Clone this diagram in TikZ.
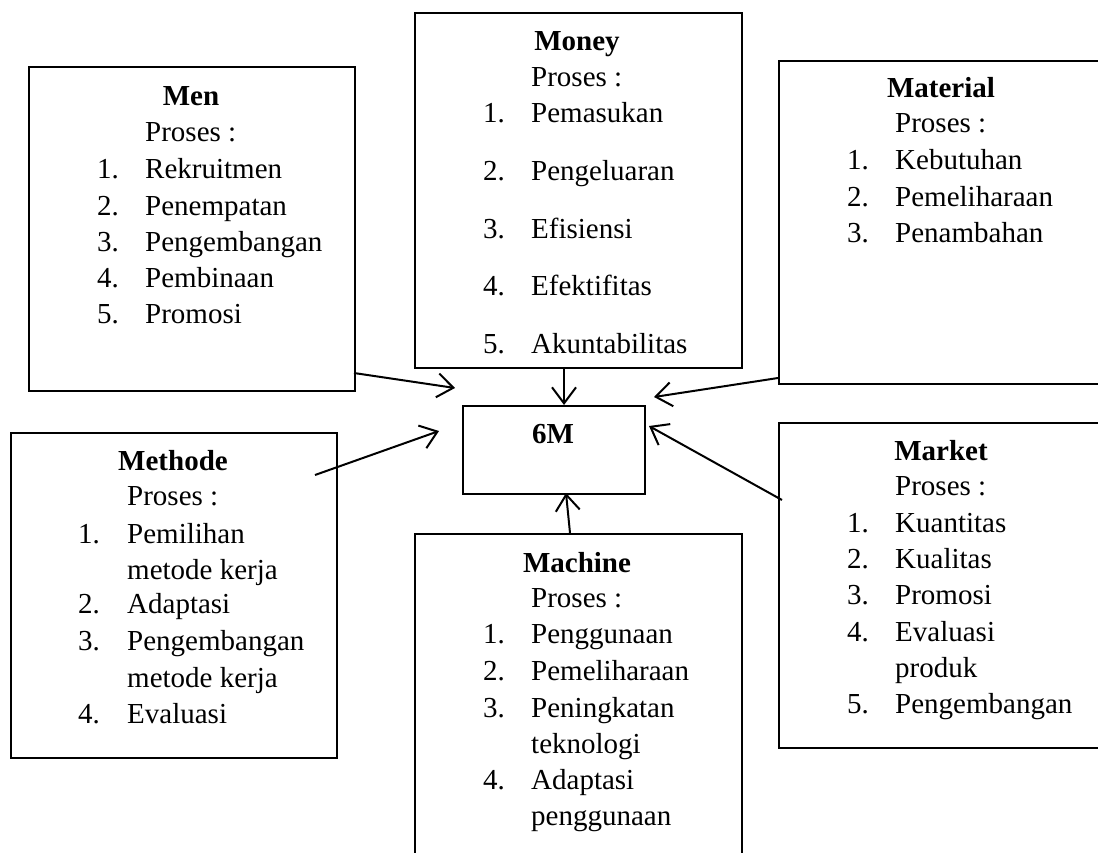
\documentclass[tikz,border=0pt]{standalone}
\usepackage{fontspec}
\setmainfont{Liberation Serif}
\usetikzlibrary{arrows.meta}
\begin{document}
\begin{tikzpicture}[x=1pt,y=-1pt,
  box/.style={draw, line width=2pt, rectangle, inner sep=0pt, anchor=north west},
  txt/.style={anchor=base west, inner sep=0pt, font=\fontsize{29}{36}\selectfont},
  ttl/.style={anchor=base, inner sep=0pt, font=\fontsize{29}{36}\selectfont\bfseries},
  arr/.style={line width=2pt, -{Straight Barb[length=16pt,width=24pt,line width=2pt]}}]
\useasboundingbox (0,0) rectangle (1098,852);
\clip (0,0) rectangle (1098,852);
% boxes
\node[box, minimum width=326pt, minimum height=324pt] (men) at (28,66) {};
\node[box, minimum width=327pt, minimum height=355pt] (money) at (414,12) {};
\node[box, minimum width=326pt, minimum height=323pt] (material) at (778,60) {};
\node[box, minimum width=326pt, minimum height=325pt] (methode) at (10,432) {};
\node[box, minimum width=327pt, minimum height=340pt] (machine) at (414,533) {};
\node[box, minimum width=326pt, minimum height=325pt] (market) at (778,422) {};
\node[box, minimum width=182pt, minimum height=88pt] (six) at (462,405) {};
\node[ttl] (sixt) at (553,443) {6M};
% Men
\node[ttl] (menT) at (191,105) {Men};
\node[txt] (menP) at (145,141) {Proses :};
\node[txt] (menN1) at (97,178) {1.}; \node[txt] (menI1) at (145,178) {Rekruitmen};
\node[txt] (menN2) at (97,215) {2.}; \node[txt] (menI2) at (145,215) {Penempatan};
\node[txt] (menN3) at (97,251) {3.}; \node[txt] (menI3) at (145,251) {Pengembangan};
\node[txt] (menN4) at (97,287) {4.}; \node[txt] (menI4) at (145,287) {Pembinaan};
\node[txt] (menN5) at (97,323) {5.}; \node[txt] (menI5) at (145,323) {Promosi};
% Money
\node[ttl] (monT) at (577,50) {Money};
\node[txt] (monP) at (531,86) {Proses :};
\node[txt] (monN1) at (483,122) {1.}; \node[txt] (monI1) at (531,122) {Pemasukan};
\node[txt] (monN2) at (483,180) {2.}; \node[txt] (monI2) at (531,180) {Pengeluaran};
\node[txt] (monN3) at (483,238) {3.}; \node[txt] (monI3) at (531,238) {Efisiensi};
\node[txt] (monN4) at (483,295) {4.}; \node[txt] (monI4) at (531,295) {Efektifitas};
\node[txt] (monN5) at (483,353) {5.}; \node[txt] (monI5) at (531,353) {Akuntabilitas};
% Material
\node[ttl] (matT) at (941,97) {Material};
\node[txt] (matP) at (895,132) {Proses :};
\node[txt] (matN1) at (847,169) {1.}; \node[txt] (matI1) at (895,169) {Kebutuhan};
\node[txt] (matN2) at (847,206) {2.}; \node[txt] (matI2) at (895,206) {Pemeliharaan};
\node[txt] (matN3) at (847,242) {3.}; \node[txt] (matI3) at (895,242) {Penambahan};
% Methode
\node[ttl] (metT) at (173,470) {Methode};
\node[txt] (metP) at (127,505) {Proses :};
\node[txt] (metN1) at (78,543) {1.}; \node[txt] (metI1) at (127,543) {Pemilihan};
\node[txt] (metI1b) at (127,579) {metode kerja};
\node[txt] (metN2) at (78,613) {2.}; \node[txt] (metI2) at (127,613) {Adaptasi};
\node[txt] (metN3) at (78,650) {3.}; \node[txt] (metI3) at (127,650) {Pengembangan};
\node[txt] (metI3b) at (127,687) {metode kerja};
\node[txt] (metN4) at (78,723) {4.}; \node[txt] (metI4) at (127,723) {Evaluasi};
% Machine
\node[ttl] (macT) at (577,572) {Machine};
\node[txt] (macP) at (531,607) {Proses :};
\node[txt] (macN1) at (483,643) {1.}; \node[txt] (macI1) at (531,643) {Penggunaan};
\node[txt] (macN2) at (483,680) {2.}; \node[txt] (macI2) at (531,680) {Pemeliharaan};
\node[txt] (macN3) at (483,717) {3.}; \node[txt] (macI3) at (531,717) {Peningkatan};
\node[txt] (macI3b) at (531,753) {teknologi};
\node[txt] (macN4) at (483,789) {4.}; \node[txt] (macI4) at (531,789) {Adaptasi};
\node[txt] (macI4b) at (531,825) {penggunaan};
% Market
\node[ttl] (marT) at (941,460) {Market};
\node[txt] (marP) at (895,495) {Proses :};
\node[txt] (marN1) at (847,532) {1.}; \node[txt] (marI1) at (895,532) {Kuantitas};
\node[txt] (marN2) at (847,568) {2.}; \node[txt] (marI2) at (895,568) {Kualitas};
\node[txt] (marN3) at (847,604) {3.}; \node[txt] (marI3) at (895,604) {Promosi};
\node[txt] (marN4) at (847,641) {4.}; \node[txt] (marI4) at (895,641) {Evaluasi};
\node[txt] (marI4b) at (895,677) {produk};
\node[txt] (marN5) at (847,713) {5.}; \node[txt] (marI5) at (895,713) {Pengembangan};
% arrow end points
\coordinate (menOut) at (354,373);   \coordinate (menTip) at (455,388);
\coordinate (monOut) at (564,367);   \coordinate (monTip) at (564,405);
\coordinate (matOut) at (778,378);   \coordinate (matTip) at (654,397);
\coordinate (metOut) at (315,475);   \coordinate (metTip) at (439,431);
\coordinate (marOut) at (782,500);   \coordinate (marTip) at (649,426);
\coordinate (macOut) at (570,533);   \coordinate (macTip) at (566,493);
\draw[arr] (menOut) -- (menTip);
\draw[arr] (monOut) -- (monTip);
\draw[arr] (matOut) -- (matTip);
\draw[arr] (metOut) -- (metTip);
\draw[arr] (marOut) -- (marTip);
\draw[arr] (macOut) -- (macTip);
\end{tikzpicture}
\end{document}
